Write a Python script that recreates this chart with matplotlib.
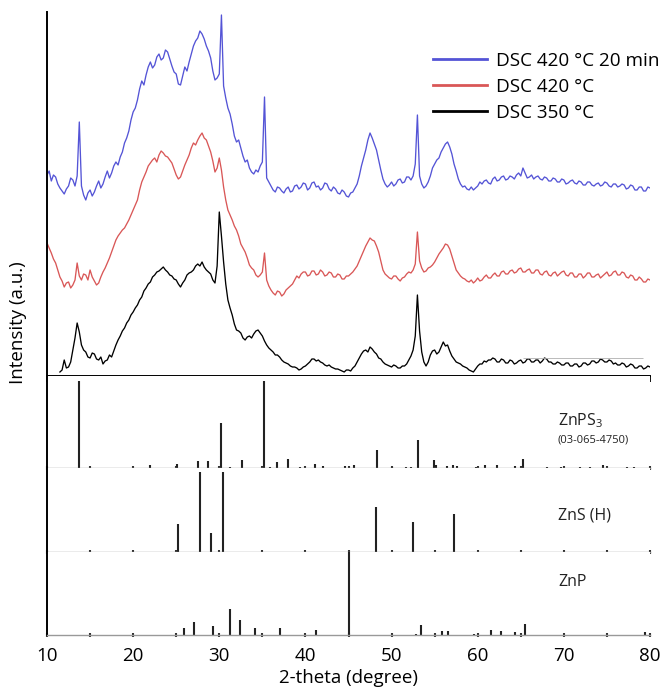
"""
XRD patterns of DSC-treated samples with ZnPS3 / ZnS / ZnP reference sticks.
"""
import numpy as np
import matplotlib.pyplot as plt

plt.rcParams['font.family'] = ['Open Sans', 'DejaVu Sans']

two_theta = np.arange(10, 80.01, 0.25)

dsc420_20min = [
    201, 205, 195, 201, 199, 192, 188, 185, 182, 187, 190, 198, 196, 190, 200, 254, 190, 181, 176, 183,
    186, 180, 184, 190, 195, 188, 192, 199, 205, 198, 203, 210, 214, 211, 219, 224, 233, 238, 245, 256,
    264, 268, 276, 287, 295, 291, 301, 309, 314, 308, 311, 319, 322, 316, 318, 326, 324, 317, 310, 304,
    302, 292, 291, 300, 309, 305, 314, 322, 330, 335, 338, 345, 342, 337, 330, 325, 318, 305, 296, 298,
    302, 361, 290, 278, 268, 262, 252, 240, 234, 236, 228, 220, 214, 216, 208, 204, 202, 206, 204, 210,
    214, 279, 198, 194, 190, 186, 184, 189, 188, 185, 183, 187, 189, 184, 185, 190, 191, 187, 189, 193,
    192, 186, 188, 193, 194, 189, 190, 186, 188, 193, 192, 187, 185, 189, 187, 183, 182, 186, 184, 180,
    179, 183, 184, 188, 192, 200, 210, 218, 226, 236, 243, 238, 232, 226, 216, 206, 197, 192, 189, 191,
    194, 190, 192, 196, 197, 193, 194, 199, 199, 196, 200, 212, 261, 200, 192, 188, 190, 194, 200, 208,
    212, 216, 218, 224, 228, 232, 234, 229, 222, 212, 205, 197, 192, 189, 190, 187, 186, 189, 186, 188,
    190, 194, 192, 195, 196, 193, 192, 197, 199, 195, 196, 199, 200, 196, 197, 200, 199, 197, 201, 203,
    200, 208, 203, 198, 199, 201, 197, 199, 200, 197, 196, 199, 198, 195, 195, 198, 197, 194, 194, 197,
    196, 192, 193, 195, 196, 193, 192, 195, 194, 191, 191, 194, 194, 191, 190, 192, 193, 190, 191, 194,
    193, 190, 189, 192, 192, 189, 190, 192, 191, 187, 188, 191, 190, 186, 186, 189, 189, 185, 185, 189,
    188,
]
dsc420 = [
    133, 128, 123, 117, 113, 106, 99, 95, 89, 93, 94, 88, 91, 96, 113, 100, 96, 102, 101, 96,
    106, 99, 95, 91, 93, 99, 104, 108, 113, 118, 124, 130, 136, 140, 143, 146, 148, 152, 156, 161,
    166, 171, 176, 186, 194, 199, 204, 210, 213, 216, 218, 214, 221, 225, 223, 220, 219, 216, 213, 207,
    201, 197, 199, 205, 211, 216, 221, 228, 233, 231, 236, 240, 243, 238, 236, 230, 224, 215, 204, 208,
    218, 206, 189, 176, 166, 161, 156, 150, 146, 140, 132, 128, 124, 118, 111, 108, 106, 101, 99, 101,
    104, 123, 96, 90, 86, 83, 81, 85, 84, 80, 82, 86, 88, 90, 92, 96, 100, 98, 102, 104,
    104, 100, 101, 105, 105, 101, 102, 106, 104, 100, 101, 104, 103, 99, 99, 102, 101, 97, 97, 100,
    100, 102, 104, 107, 110, 115, 120, 125, 130, 134, 138, 136, 135, 130, 124, 115, 106, 102, 100, 98,
    97, 100, 100, 97, 95, 98, 99, 102, 104, 103, 106, 112, 144, 115, 108, 104, 105, 108, 109, 111,
    114, 118, 122, 125, 128, 132, 131, 127, 120, 113, 106, 103, 100, 98, 97, 95, 94, 96, 93, 95,
    98, 95, 96, 99, 101, 98, 98, 101, 103, 100, 100, 104, 105, 102, 102, 105, 106, 103, 104, 107,
    108, 104, 104, 106, 107, 103, 103, 106, 106, 102, 101, 104, 105, 101, 100, 103, 104, 100, 102, 104,
    105, 101, 100, 103, 103, 99, 99, 102, 102, 98, 100, 103, 103, 99, 99, 101, 102, 98, 100, 102,
    104, 100, 101, 104, 105, 101, 101, 104, 103, 99, 98, 101, 100, 96, 96, 99, 97, 94, 94, 97,
    96,
]
nan = np.nan
dsc350 = [
    nan, nan, nan, nan, nan, nan, 4, 6, 16, 8, 9, 14, 26, 38, 53, 44, 31, 26, 24, 19,
    18, 23, 22, 17, 16, 19, 12, 15, 16, 21, 19, 25, 31, 36, 40, 45, 48, 53, 56, 61,
    64, 68, 71, 76, 79, 85, 88, 92, 94, 99, 101, 104, 105, 107, 109, 106, 104, 101, 100, 97,
    96, 92, 89, 93, 96, 101, 103, 104, 106, 110, 112, 110, 114, 109, 106, 104, 102, 96, 93, 110,
    164, 140, 114, 92, 76, 68, 61, 52, 46, 45, 43, 38, 36, 39, 40, 38, 42, 45, 46, 43,
    40, 35, 31, 28, 26, 24, 21, 21, 19, 16, 14, 13, 12, 10, 9, 9, 8, 6, 7, 9,
    10, 12, 14, 17, 17, 15, 16, 14, 13, 11, 10, 11, 9, 8, 7, 7, 6, 5, 4, 6,
    6, 5, 8, 10, 14, 18, 22, 25, 26, 24, 29, 27, 24, 22, 18, 17, 14, 12, 11, 10,
    9, 11, 10, 8, 8, 10, 10, 12, 16, 20, 26, 40, 81, 45, 24, 14, 10, 14, 21, 25,
    26, 22, 24, 29, 34, 30, 31, 25, 20, 17, 14, 13, 12, 10, 9, 8, 6, 5, 4, 7,
    10, 12, 12, 15, 14, 16, 16, 18, 17, 14, 14, 17, 16, 13, 13, 16, 15, 12, 13, 15,
    16, 13, 14, 17, 17, 14, 14, 16, 16, 13, 15, 18, 17, 14, 14, 12, 12, 14, 13, 11,
    11, 13, 13, 10, 10, 12, 12, 9, 10, 13, 13, 11, 12, 15, 15, 13, 14, 17, 16, 14,
    14, 16, 15, 12, 13, 11, 11, 13, 12, 9, 10, 12, 11, 8, 8, 10, 10, 7, 8, 10,
    9,
]

# reference stick patterns (position, relative intensity)
znps3_pos = [13.75, 21.96, 25.1, 27.56, 28.7, 30.2, 31.25, 32.6, 35.2, 35.9,
             36.7, 38.0, 39.4, 41.1, 42.0, 44.6, 45.6, 48.3, 50.0, 51.7,
             52.3, 53.1, 54.95, 55.2, 56.4, 57.1, 57.6, 59.8, 60.85, 62.2,
             64.3, 65.3, 68.0, 69.7, 71.9, 73.0, 74.6, 77.3, 78.1]
znps3_int = [100, 3, 5, 8, 8, 52, 1.5, 9, 100, 1.5,
             7, 10, 1.5, 5, 2, 2, 3, 21, 1.5, 1.5,
             1.5, 32, 9, 3, 2, 3, 2, 1.5, 4, 3,
             2, 10, 1.5, 1.5, 1.5, 1.5, 3, 1.5, 1.5]
zns_pos = [25.25, 27.76, 29.0, 30.4, 48.2, 52.5, 57.25]
zns_int = [35, 100, 24, 100, 56, 37, 47]
znp_pos = [25.9, 27.1, 29.3, 31.3, 32.4, 34.2, 37.0, 41.2, 45.0, 52.85,
           53.4, 55.9, 56.5, 59.6, 61.6, 62.7, 64.3, 65.5, 79.4]
znp_int = [9, 16, 11, 31, 18, 9, 9, 6, 100, 1.5,
           12, 5, 5, 1.5, 6, 5, 4, 13, 4]

W, H = 667, 689

for series in (dsc420_20min, dsc420, dsc350):
    assert len(series) == len(two_theta)


def panel(fig, top, bottom):
    """Axes placed by pixel rows, spanning 10..80 horizontally."""
    return fig.add_axes([47 / W, 1 - bottom / H, 603 / W, (bottom - top) / H])


fig = plt.figure(figsize=(W / 100, H / 100), dpi=100)

# measured patterns
ax = panel(fig, 12, 376)
ax.plot(two_theta, dsc420_20min, color='#5454d6', lw=0.95, label='DSC 420 °C 20 min')
ax.plot(two_theta, dsc420, color='#d95757', lw=0.95, label='DSC 420 °C')
ax.plot(two_theta, dsc350, color='black', lw=0.95, label='DSC 350 °C')
ax.hlines(18, 65.3, 79.2, color='#b0b0b0', lw=0.6)
ax.set_xlim(10, 80)
ax.set_ylim(0, 364)
ax.set_yticks([])
ax.set_xticks(range(10, 81, 10))
ax.tick_params(axis='x', direction='out', length=4, width=1.3, labelbottom=False)
for s in ('top', 'right'):
    ax.spines[s].set_visible(False)
for s in ('left', 'bottom'):
    ax.spines[s].set_linewidth(1.4)
leg = ax.legend(loc='upper left', bbox_to_anchor=(433 / W, 1 - 52 / H),
                bbox_transform=fig.transFigure, frameon=False, fontsize=13.6,
                handlelength=2.85, handletextpad=0.5, labelspacing=0.42,
                borderpad=0, borderaxespad=0)
for line in leg.get_lines():
    line.set_linewidth(2.0)

# reference sticks
stick_panels = [
    (376, 468, 105.7, znps3_pos, znps3_int),
    (468, 552, 105, zns_pos, zns_int),
    (552, 635, 100, znp_pos, znp_int),
]
for i, (top, bottom, ymax, pos, ints) in enumerate(stick_panels):
    sax = panel(fig, top, bottom)
    sax.vlines(pos, 0, ints, color='#222222', lw=1.5)
    sax.set_xlim(10, 80)
    sax.set_ylim(0, ymax)
    sax.set_yticks([])
    sax.set_xticks(range(10, 81, 10))
    sax.set_xticks(range(15, 80, 10), minor=True)
    sax.tick_params(axis='x', which='both', direction='inout', length=3,
                    width=1.5, color='#333333', labelbottom=(i == 2),
                    labelsize=13.5, pad=7)
    sax.spines['top'].set_visible(False)
    sax.spines['right'].set_visible(False)
    sax.spines['left'].set_linewidth(1.4)
    sax.spines['bottom'].set_color('#999999')
    sax.spines['bottom'].set_linewidth(1.0)

fig.text(558 / W, 1 - 421 / H, r'ZnPS$_\mathregular{3}$', fontsize=11.5,
         va='center', ha='left', color='#222222')
fig.text(558 / W, 1 - 440 / H, '(03-065-4750)', fontsize=8,
         va='center', ha='left', color='#222222')
fig.text(558 / W, 1 - 515 / H, 'ZnS (H)', fontsize=11.5,
         va='center', ha='left', color='#222222')
fig.text(558 / W, 1 - 582 / H, 'ZnP', fontsize=11.5,
         va='center', ha='left', color='#222222')

fig.text(348.5 / W, 1 - 678 / H, '2-theta (degree)', fontsize=13.5,
         ha='center', va='center')
fig.text(18 / W, 1 - 323 / H, 'Intensity (a.u.)', fontsize=13.5,
         ha='center', va='center', rotation=90)

fig.savefig('out.png', dpi=100)
